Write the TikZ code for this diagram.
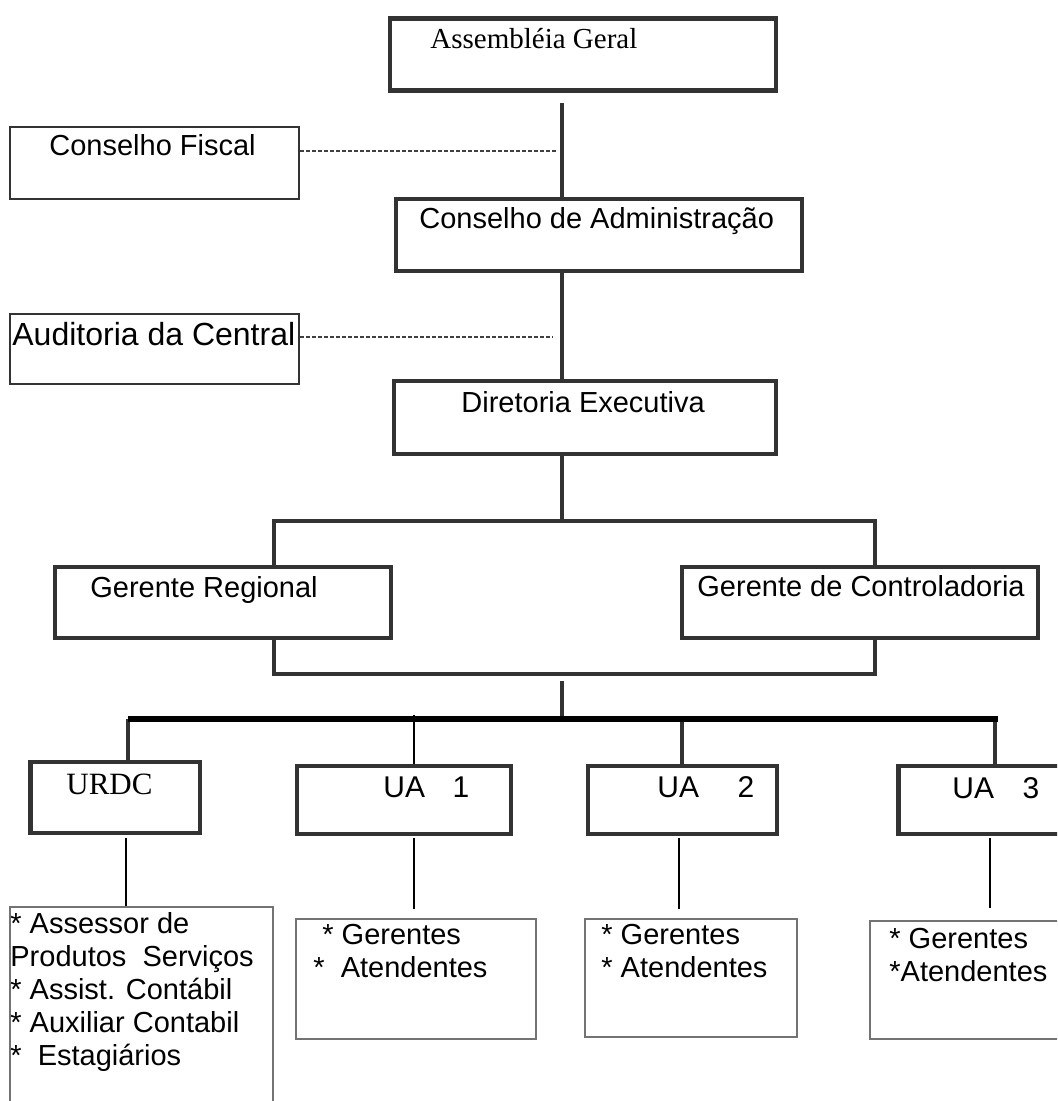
\documentclass[tikz,border=0pt]{standalone}
\usepackage{fontspec}
\setmainfont{Liberation Sans}
\newfontfamily\timesfont{Liberation Serif}
\usetikzlibrary{fit}
\begin{document}
\begin{tikzpicture}%
	[x=0.5pt, y=-0.5pt,
	box/.style={draw=black!80, line width=2.3pt, inner sep=0pt},
	sidebox/.style={draw=black!80, line width=1pt, inner sep=0pt},
	listbox/.style={draw=black!55, line width=0.6pt, inner sep=0pt},
	edge/.style={color=black!80, line width=2.2pt},
	busedge/.style={color=black, line width=3pt},
	thinedge/.style={color=black, line width=0.7pt},
	sideedge/.style={color=black!75, line width=0.6pt, dash pattern=on 2pt off 1pt},
	txt/.style={inner sep=0pt, font=\fontsize{14.5}{16.5}\selectfont},
	bigtxt/.style={inner sep=0pt, font=\fontsize{15}{16.5}\selectfont}]
	\useasboundingbox (0,0) rectangle (1057,1101);
	\clip (0,0) rectangle (1057,1101);

	%boxes
	\node[box, fit={(390,18.5) (776,90.5)}] (ag) {};
	\node[sidebox, fit={(10,127) (299,199)}] (cf) {};
	\node[box, fit={(396,199) (802,271)}] (ca) {};
	\node[sidebox, fit={(10,314) (299,384)}] (au) {};
	\node[box, fit={(394,381) (776,454)}] (de) {};
	\node[box, fit={(55,567) (391,638)}] (gr) {};
	\node[box, fit={(682,567) (1038,638)}] (gc) {};
	\node[box, fit={(30.5,762) (200,833)}] (urdc) {};
	\node[box, fit={(297,766) (511,834)}] (ua1) {};
	\node[box, fit={(588,766) (777,834)}] (ua2) {};
	\node[box, fit={(898.5,766) (1075,834)}] (ua3) {};
	\node[listbox, fit={(10,907) (273,1120)}] (lurdc) {};
	\node[listbox, fit={(296,919) (536,1039)}] (lua1) {};
	\node[listbox, fit={(585,919) (797,1037)}] (lua2) {};
	\node[listbox, fit={(870,921) (1080,1039)}] (lua3) {};

	%texts
	\node[txt, anchor=base west] (agtxt) at (430,49) {\timesfont Assembléia Geral};
	\node[txt, anchor=base west] (cftxt) at (49,156) {Conselho Fiscal};
	\node[txt, anchor=base west] (catxt) at (419,229) {Conselho de Administração};
	\node[inner sep=0pt, font=\fontsize{16}{18}\selectfont, anchor=base west] (autxt) at (12,345) {Auditoria da Central};
	\node[txt, anchor=base west] (detxt) at (461,412) {Diretoria Executiva};
	\node[txt, anchor=base west] (grtxt) at (90,597) {Gerente Regional};
	\node[txt, anchor=base west] (gctxt) at (697,596) {Gerente de Controladoria};
	\node[inner sep=0pt, font=\fontsize{15.5}{17}\selectfont, anchor=base west] (urdctxt) at (66,794) {\timesfont URDC};
	\node[bigtxt, anchor=base west] (ua1txt) at (383,797) {UA\hspace{13.8pt}1};
	\node[bigtxt, anchor=base west] (ua2txt) at (657,797) {UA\hspace{19.3pt}2};
	\node[bigtxt, anchor=base west] (ua3txt) at (952,798) {UA\hspace{14.3pt}3};
	\node[txt, anchor=north west, align=left] (lurdctxt) at (10,912)
		{* Assessor de\\Produtos\ \ Serviços\\* Assist. Contábil\\* Auxiliar Contabil\\*\ \ Estagiários};
	\node[txt, anchor=north west, align=left] (lua1txt) at (313,924)
		{\hspace*{4.5pt}* Gerentes\\*\ \ Atendentes};
	\node[txt, anchor=north west, align=left] (lua2txt) at (601,924) {* Gerentes\\* Atendentes};
	\node[txt, anchor=north west, align=left] (lua3txt) at (889,928) {* Gerentes\\*Atendentes};

	%trunk
	\coordinate (agfoot) at (562,103);
	\draw[edge] (agfoot) -- (agfoot |- ca.north);
	\draw[edge] (ca.south -| agfoot) -- (de.north -| agfoot);
	\coordinate (cftap) at (557,151);
	\draw[sideedge] (cf.east |- cftap) -- (cftap);
	\coordinate (autap) at (553,337);
	\draw[sideedge] (au.east |- autap) -- (autap);

	%managers
	\coordinate (grtap) at (274,521);
	\coordinate (gctap) at (875,521);
	\coordinate (grlow) at (274,674);
	\coordinate (gclow) at (875,674);
	\draw[edge] (de.south -| agfoot) -- (agfoot |- grtap);
	\draw[edge] (gr.north -| grtap) -- (grtap) -- (gctap) -- (gc.north -| gctap);
	\draw[edge] (gr.south -| grlow) -- (grlow) -- (gclow) -- (gc.south -| gclow);

	%units
	\coordinate (busup) at (562,681);
	\coordinate (busleft) at (128,719);
	\coordinate (busright) at (998,719);
	\coordinate (ua1tap) at (414,715);
	\coordinate (ua2tap) at (682,719);
	\coordinate (ua3tap) at (995,719);
	\draw[edge] (busup) -- (busup |- busleft);
	\draw[edge] (busleft) -- (busleft |- urdc.north);
	\draw[edge] (ua2tap) -- (ua2tap |- ua2.north);
	\draw[edge] (ua3tap) -- (ua3tap |- ua3.north);
	\draw[thinedge] (ua1tap) -- (ua1tap |- ua1.north);
	\draw[busedge] (busleft) -- (busright);

	%staff
	\coordinate (urdcdrop) at (126,838);
	\coordinate (ua1drop) at (414,838);
	\coordinate (ua2drop) at (679,838);
	\coordinate (ua3drop) at (990,838);
	\draw[thinedge] (urdcdrop) -- (urdcdrop |- lurdc.north);
	\draw[thinedge] (ua1drop) -- ++(0,71);
	\draw[thinedge] (ua2drop) -- ++(0,71);
	\draw[thinedge] (ua3drop) -- ++(0,70);
\end{tikzpicture}
\end{document}
